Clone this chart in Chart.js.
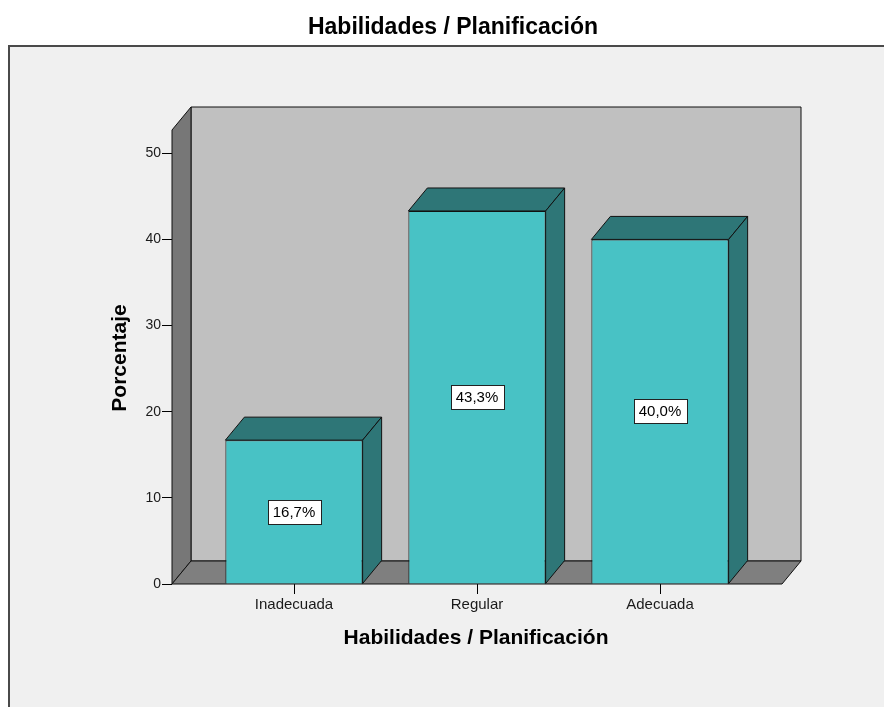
<!DOCTYPE html>
<html>
<head>
<meta charset="utf-8">
<script src="https://cdn.jsdelivr.net/npm/chart.js@4.4.1/dist/chart.umd.min.js"></script>
<style>
  html, body { margin: 0; padding: 0; background: #ffffff; }
  #wrap { width: 884px; height: 707px; }
</style>
</head>
<body>
<div id="wrap"><canvas id="c" width="884" height="707"></canvas></div>
<script>
// Chart text
const chartTitle = 'Habilidades / Planificación';
const xAxisTitle = 'Habilidades / Planificación';
const yAxisTitle = 'Porcentaje';

// Data
const categories = ['Inadecuada', 'Regular', 'Adecuada'];
const percentages = [16.7, 43.3, 40.0];
const yTicks = [0, 10, 20, 30, 40, 50];

// 3D depth offset of walls and bars
const DEPTH_X = 19;
const DEPTH_Y = 23;

const COLORS = {
  frameBg: '#f0f0f0',
  frameLine: '#4a4a4a',
  backWall: '#c0c0c0',
  sideWall: '#777777',
  floor: '#7f7f7f',
  barFront: '#48c2c5',
  barDark: '#2e7677',
  outline: '#111111'
};

const FONT = '"Liberation Sans", Arial, sans-serif';

function poly(ctx, pts, fill) {
  ctx.beginPath();
  ctx.moveTo(pts[0][0], pts[0][1]);
  for (let i = 1; i < pts.length; i++) ctx.lineTo(pts[i][0], pts[i][1]);
  ctx.closePath();
  ctx.fillStyle = fill;
  ctx.fill();
  ctx.strokeStyle = COLORS.outline;
  ctx.lineWidth = 1;
  ctx.stroke();
}

const box3d = {
  id: 'box3d',
  beforeDraw(chart) {
    const ctx = chart.ctx;
    ctx.save();
    ctx.fillStyle = '#ffffff';
    ctx.fillRect(0, 0, chart.width, chart.height);
    // framed panel
    ctx.fillStyle = COLORS.frameBg;
    ctx.fillRect(8, 45, chart.width - 8, chart.height - 45);
    ctx.strokeStyle = COLORS.frameLine;
    ctx.lineWidth = 2;
    ctx.beginPath();
    ctx.moveTo(9, chart.height);
    ctx.lineTo(9, 46);
    ctx.lineTo(chart.width, 46);
    ctx.stroke();
    // title
    ctx.fillStyle = '#000000';
    ctx.font = 'bold 23px ' + FONT;
    ctx.textAlign = 'center';
    ctx.textBaseline = 'middle';
    ctx.fillText(chartTitle, 453, 28);
    ctx.restore();
  },
  beforeDatasetsDraw(chart) {
    const ctx = chart.ctx;
    const a = chart.chartArea;
    const L = a.left, R = a.right, T = a.top, B = a.bottom;
    ctx.save();
    // back wall
    poly(ctx, [[L + DEPTH_X, T - DEPTH_Y], [R + DEPTH_X, T - DEPTH_Y], [R + DEPTH_X, B - DEPTH_Y], [L + DEPTH_X, B - DEPTH_Y]], COLORS.backWall);
    // left wall
    poly(ctx, [[L, T], [L + DEPTH_X, T - DEPTH_Y], [L + DEPTH_X, B - DEPTH_Y], [L, B]], COLORS.sideWall);
    // floor
    poly(ctx, [[L, B], [L + DEPTH_X, B - DEPTH_Y], [R + DEPTH_X, B - DEPTH_Y], [R, B]], COLORS.floor);
    ctx.restore();
  },
  afterDatasetsDraw(chart) {
    const ctx = chart.ctx;
    const meta = chart.getDatasetMeta(0);
    ctx.save();
    meta.data.forEach((bar) => {
      const p = bar.getProps(['x', 'y', 'base', 'width'], true);
      const left = p.x - p.width / 2;
      const right = p.x + p.width / 2;
      // top face
      poly(ctx, [[left, p.y], [left + DEPTH_X, p.y - DEPTH_Y], [right + DEPTH_X, p.y - DEPTH_Y], [right, p.y]], COLORS.barDark);
      // side face
      poly(ctx, [[right, p.y], [right + DEPTH_X, p.y - DEPTH_Y], [right + DEPTH_X, p.base - DEPTH_Y], [right, p.base]], COLORS.barDark);
    });
    // value labels in boxes
    ctx.font = '15px ' + FONT;
    ctx.textAlign = 'center';
    ctx.textBaseline = 'middle';
    meta.data.forEach((bar, i) => {
      const p = bar.getProps(['x', 'y', 'base'], true);
      const txt = percentages[i].toFixed(1).replace('.', ',') + '%';
      const w = Math.round(ctx.measureText(txt).width) + 10;
      const h = 24;
      const cy = Math.round((p.y + p.base) / 2);
      const bx = Math.round(p.x - w / 2) + 0.5;
      const by = Math.round(cy - h / 2) + 0.5;
      ctx.fillStyle = '#ffffff';
      ctx.fillRect(bx, by, w, h);
      ctx.strokeStyle = '#222222';
      ctx.lineWidth = 1;
      ctx.strokeRect(bx, by, w, h);
      ctx.fillStyle = '#000000';
      ctx.fillText(txt, p.x, cy + 1);
    });
    ctx.restore();
  },
  afterDraw(chart) {
    const ctx = chart.ctx;
    ctx.save();
    ctx.fillStyle = '#000000';
    ctx.font = 'bold 21px ' + FONT;
    ctx.textAlign = 'center';
    ctx.textBaseline = 'middle';
    ctx.fillText(xAxisTitle, 476, 638);
    ctx.translate(120, 358);
    ctx.rotate(-Math.PI / 2);
    ctx.fillText(yAxisTitle, 0, 0);
    ctx.restore();
  }
};

new Chart(document.getElementById('c'), {
  type: 'bar',
  data: {
    datasets: [{
      data: categories.map((c, i) => ({ x: i, y: percentages[i] })),
      backgroundColor: COLORS.barFront,
      borderColor: COLORS.outline,
      borderWidth: 1,
      barPercentage: 0.75,
      categoryPercentage: 1
    }]
  },
  options: {
    responsive: false,
    animation: false,
    devicePixelRatio: 1,
    layout: { padding: { top: 130, right: 102, left: 0, bottom: 0 } },
    plugins: { legend: { display: false }, tooltip: { enabled: false }, title: { display: false } },
    scales: {
      x: {
        type: 'linear',
        offset: false,
        min: -2 / 3,
        max: 2 + 2 / 3,
        afterBuildTicks: s => { s.ticks = categories.map((c, i) => ({ value: i })); },
        afterFit: s => { s.height = 123; },
        border: { display: false },
        grid: { offset: false, drawOnChartArea: false, drawTicks: true, tickLength: 10, color: '#000000' },
        ticks: {
          callback: v => categories[v] !== undefined ? categories[v] : '',
          font: { family: FONT, size: 15 },
          color: '#1a1a1a',
          padding: 2,
          maxRotation: 0
        }
      },
      y: {
        type: 'linear',
        min: 0,
        max: 52.7,
        afterBuildTicks: s => { s.ticks = yTicks.map(v => ({ value: v })); },
        afterFit: s => { s.width = 172; },
        border: { display: false },
        grid: { drawOnChartArea: false, drawTicks: true, tickLength: 10, color: '#000000' },
        ticks: {
          font: { family: FONT, size: 14 },
          color: '#1a1a1a',
          padding: 1
        }
      }
    }
  },
  plugins: [box3d]
});
</script>
</body>
</html>
